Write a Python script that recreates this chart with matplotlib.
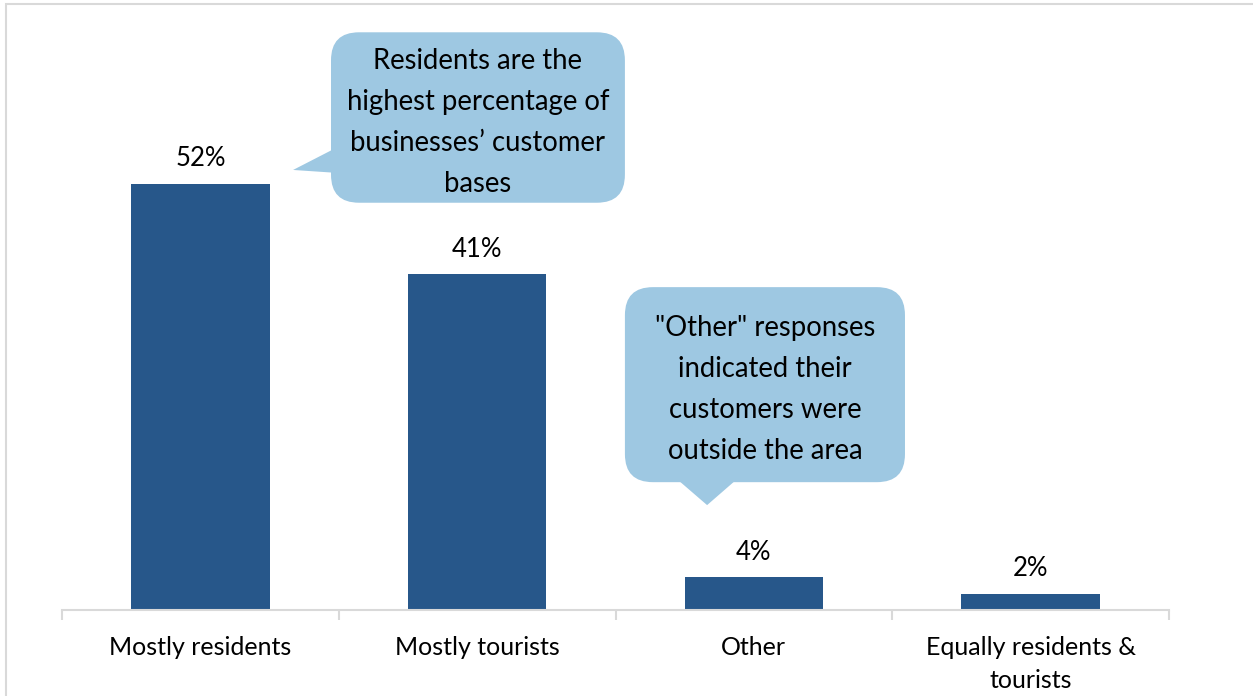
import matplotlib
matplotlib.use("Agg")
import matplotlib.pyplot as plt
from matplotlib.patches import FancyBboxPatch, Polygon, Rectangle

categories = ["Mostly residents", "Mostly tourists", "Other", "Equally residents &\ntourists"]
shares = [52, 41, 4, 2]
value_labels = ["52%", "41%", "4%", "2%"]

callout_texts = [
    "Residents are the\nhighest percentage of\nbusinesses\u2019 customer\nbases",
    "\"Other\" responses\nindicated their\ncustomers were\noutside the area",
]

BAR = "#27578a"
BUBBLE = "#9ec8e2"
AXIS = "#d9d9d9"
INK = "#000000"

plt.rcParams["font.family"] = ["Lato", "DejaVu Sans"]

W, H, DPI = 1253, 696, 100
fig = plt.figure(figsize=(W / DPI, H / DPI), dpi=DPI)
fig.patch.set_facecolor("white")

# light outer frame
fig.patches.append(Rectangle((6 / W, -0.1), 1.2, (H - 4) / H + 0.1, transform=fig.transFigure,
                             fill=False, edgecolor="#d9d9d9", lw=1.5))

ax = fig.add_axes([62 / W, (H - 610) / H, (1169 - 62) / W, (610 - 20) / H])
x = range(len(categories))
ax.bar(x, shares, width=0.5, color=BAR)
ax.set_xlim(-0.5, len(categories) - 0.5)
ax.set_ylim(0, 72)

for xi, v, lab in zip(x, shares, value_labels):
    ax.annotate(lab, (xi, v), xytext=(0, 9), textcoords="offset points",
                ha="center", va="bottom", fontsize=18.5, color=INK)

ax.set_xticks([i - 0.5 for i in range(len(categories) + 1)])
ax.set_xticklabels([])
ax.set_xticks(list(x), minor=True)
ax.set_xticklabels(categories, minor=True, fontsize=18, color=INK, linespacing=1.55)
ax.tick_params(axis="x", which="major", length=7, width=1.5, color=AXIS)
ax.tick_params(axis="x", which="minor", length=0, pad=18.5)
ax.set_yticks([])
for side in ("top", "right", "left"):
    ax.spines[side].set_visible(False)
ax.spines["bottom"].set_color(AXIS)
ax.spines["bottom"].set_linewidth(1.5)

# callout bubbles: box (x0, x1, y0, y1) in data units plus a pointer triangle
px_x = 276.75  # pixels per category unit
px_y = 590 / 72  # pixels per percent
aspect = px_x / px_y
radius = 28 / px_x

bubbles = [
    dict(box=(0.472, 1.534, 49.7, 70.5),
         tail=[(0.60, 58.3), (0.335, 53.7), (0.60, 53.1)],
         text_xy=(1.003, 59.5)),
    dict(box=(1.534, 2.546, 15.6, 39.4),
         tail=[(1.704, 16.5), (1.831, 12.8), (1.957, 16.5)],
         text_xy=(2.040, 26.9)),
]
for b, txt in zip(bubbles, callout_texts):
    x0, x1, y0, y1 = b["box"]
    ax.add_patch(FancyBboxPatch((x0, y0), x1 - x0, y1 - y0,
                                boxstyle=f"round,pad=0,rounding_size={radius}",
                                mutation_aspect=aspect, facecolor=BUBBLE,
                                edgecolor="none", clip_on=False, zorder=3))
    ax.add_patch(Polygon(b["tail"], closed=True, facecolor=BUBBLE, edgecolor="none",
                         clip_on=False, zorder=3))
    ax.text(*b["text_xy"], txt, ha="center", va="center", fontsize=19.8,
            linespacing=1.72, color=INK, zorder=4)

fig.savefig("out.png", dpi=DPI)
